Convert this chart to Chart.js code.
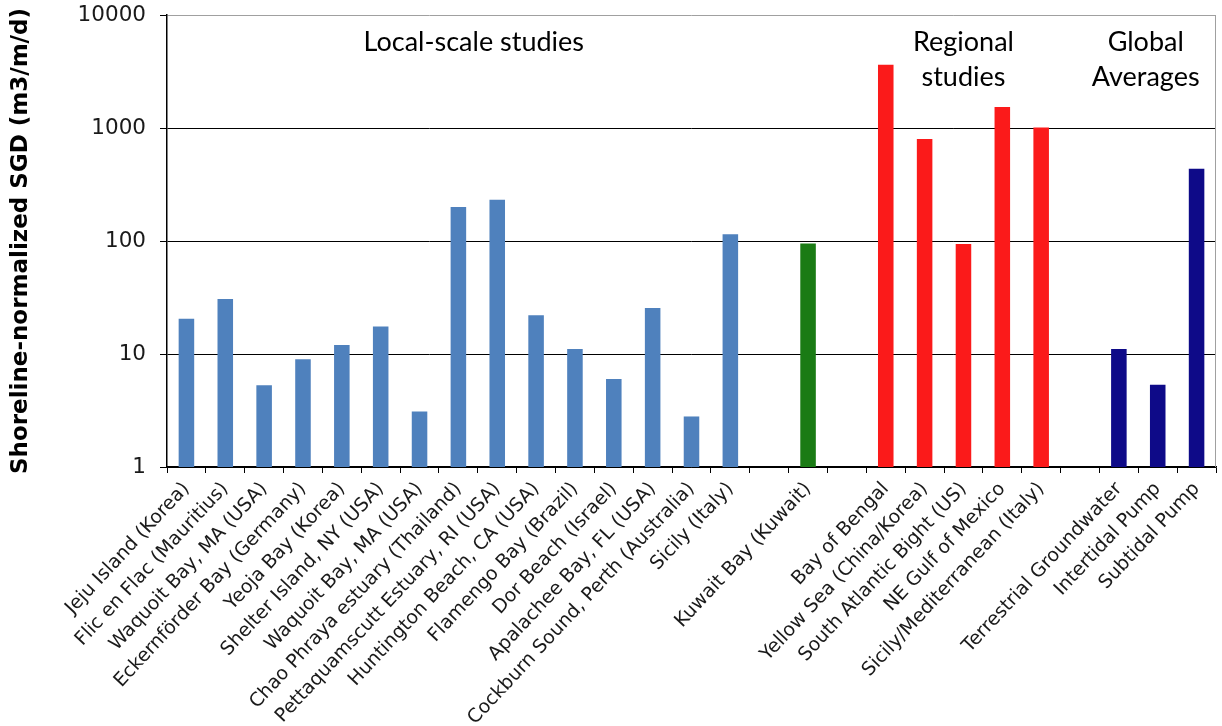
<!DOCTYPE html>
<html>
<head>
<meta charset="utf-8">
<script src="https://cdn.jsdelivr.net/npm/chart.js@4.4.1/dist/chart.umd.min.js"></script>
<style>
  body { margin: 0; background: #fff; }
</style>
</head>
<body>
<canvas id="sgdChart" width="1222" height="726"></canvas>
<script>
// values, log scale
const localLabels = [
    'Jeju Island (Korea)', 'Flic en Flac (Mauritius)', 'Waquoit Bay, MA (USA)',
    'Eckernförder Bay (Germany)', 'Yeoja Bay (Korea)', 'Shelter Island, NY (USA)',
    'Waquoit Bay, MA (USA)', 'Chao Phraya estuary (Thailand)', 'Pettaquamscutt Estuary, RI (USA)',
    'Huntington Beach, CA (USA)', 'Flamengo Bay (Brazil)', 'Dor Beach (Israel)',
    'Apalachee Bay, FL (USA)', 'Cockburn Sound, Perth (Australia)', 'Sicily (Italy)'
];
const localValues = [20.5, 30.7, 5.3, 9.0, 12.0, 17.5, 3.1, 200, 232, 22, 11.1, 6.0, 25.5, 2.8, 115];

const kuwaitLabels = ['Kuwait Bay (Kuwait)'];
const kuwaitValues = [95];

const regionalLabels = ['Bay of Bengal', 'Yellow Sea (China/Korea)', 'South Atlantic Bight (US)',
    'NE Gulf of Mexico', 'Sicily/Mediterranean (Italy)'];
const regionalValues = [3630, 800, 94, 1535, 1010];

const globalLabels = ['Terrestrial Groundwater', 'Intertidal Pump', 'Subtidal Pump'];
const globalValues = [11.1, 5.35, 437];

const yTicks = [1, 10, 100, 1000, 10000];

const groups = [
    { labels: localLabels, values: localValues, color: '#4f81bd' },
    { labels: kuwaitLabels, values: kuwaitValues, color: '#1a7b14' },
    { labels: regionalLabels, values: regionalValues, color: '#fb1a1a' },
    { labels: globalLabels, values: globalValues, color: '#0e0a88' }
];

let labels = [];
let values = [];
let colors = [];
groups.forEach((g, i) => {
    if (i > 0) {
        // empty slot between groups
        labels.push('');
        values.push(null);
        colors.push('#fff');
    }
    labels = labels.concat(g.labels);
    values = values.concat(g.values);
    g.values.forEach(() => colors.push(g.color));
});

const groupText = {
    id: 'groupText',
    afterDraw(chart) {
        const ctx = chart.ctx;
        const x = chart.scales.x;
        const top = chart.chartArea.top;
        const n1 = localLabels.length;
        const r0 = n1 + kuwaitLabels.length + 2;
        const g0 = r0 + regionalLabels.length + 1;
        ctx.save();
        ctx.font = '27px Lato';
        ctx.fillStyle = '#000';
        ctx.textAlign = 'center';
        ctx.textBaseline = 'middle';
        const localX = (x.getPixelForValue(Math.floor((n1 - 1) / 2)) + x.getPixelForValue(Math.floor((n1 - 1) / 2) + 1)) / 2 - 4;
        ctx.fillText('Local-scale studies', localX, top + 27);
        const regX = x.getPixelForValue(r0 + 2);
        ctx.fillText('Regional', regX, top + 27);
        ctx.fillText('studies', regX, top + 62);
        const globX = x.getPixelForValue(g0 + 1) - 12;
        ctx.fillText('Global', globX, top + 27);
        ctx.fillText('Averages', globX, top + 62);
        // right border of the plot area
        ctx.strokeStyle = '#a0a0a0';
        ctx.lineWidth = 1;
        ctx.beginPath();
        ctx.moveTo(chart.chartArea.right - 0.5, chart.chartArea.top);
        ctx.lineTo(chart.chartArea.right - 0.5, chart.chartArea.bottom);
        ctx.stroke();
        ctx.restore();
    }
};

const ctx = document.getElementById('sgdChart').getContext('2d');
const myChart = new Chart(ctx, {
    type: 'bar',
    data: {
        labels: labels,
        datasets: [{
            data: values,
            backgroundColor: colors,
            barPercentage: 0.4,
            categoryPercentage: 1.0
        }]
    },
    options: {
        responsive: false,
        animation: false,
        devicePixelRatio: 1,
        layout: { padding: { top: 15, right: 6, left: 0, bottom: 0 } },
        plugins: {
            legend: { display: false },
            tooltip: { enabled: false }
        },
        scales: {
            x: {
                afterFit: (scale) => { scale.height = 259; },
                grid: { offset: true, drawOnChartArea: false, drawTicks: true, tickLength: 6, color: '#000' },
                border: { color: '#000', width: 1.5 },
                ticks: {
                    autoSkip: false,
                    maxRotation: 47,
                    minRotation: 47,
                    padding: 5,
                    color: '#1a1a1a',
                    font: { family: 'DejaVu Sans', size: 19 }
                }
            },
            y: {
                type: 'logarithmic',
                min: 1,
                max: 10000,
                afterFit: (scale) => {
                    scale.width = 167;
                    scale.paddingTop = 0;
                    scale.paddingBottom = 0;
                },
                afterBuildTicks: (scale) => {
                    scale.ticks = yTicks.map((v) => ({ value: v }));
                },
                grid: {
                    color: (c) => (c.tick && c.tick.value === 10000 ? '#a0a0a0' : '#000'),
                    lineWidth: 1,
                    tickLength: 7,
                    tickColor: '#000'
                },
                border: { color: '#000', width: 1.5 },
                ticks: {
                    padding: 14,
                    color: '#1a1a1a',
                    font: { family: 'DejaVu Sans', size: 21.5 },
                    callback: (v) => String(v)
                },
                title: {
                    display: true,
                    text: 'Shoreline-normalized SGD (m3/m/d)',
                    color: '#000',
                    font: { family: 'DejaVu Sans', size: 23, weight: 'bold' },
                    padding: { top: 7, bottom: 0 }
                }
            }
        }
    },
    plugins: [groupText]
});
</script>
</body>
</html>
